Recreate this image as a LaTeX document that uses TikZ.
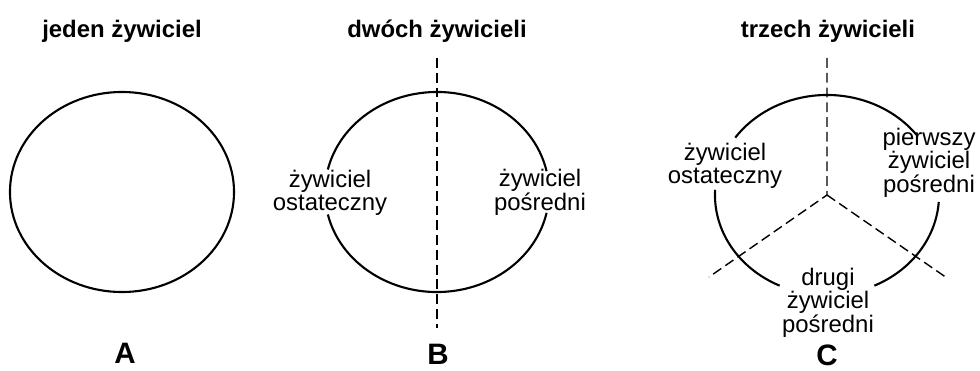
\documentclass[tikz,border=0pt]{standalone}
\usepackage{fontspec}
\setmainfont{Liberation Sans}
\usetikzlibrary{calc}

\begin{document}
\begin{tikzpicture}[x=0.025cm, y=0.025cm,
    obwod/.style={line width=1.5pt},
    os/.style={dashed, line width=1pt, dash pattern=on 7pt off 3.5pt},
    tytul/.style={font=\fontsize{17}{17}\selectfont\bfseries},
    litera/.style={inner sep=0pt, font=\fontsize{21}{21}\selectfont\bfseries},
    opis/.style={align=center, inner sep=0pt, font=\fontsize{17}{16}\selectfont},
    luk/.style={x radius=2.8cm, y radius=2.5cm}]
        \useasboundingbox (0,0) rectangle (980,370);

        % Centres of the three cycles
        \coordinate (A) at (122,178);
        \coordinate (B) at (437,178);
        \coordinate (C) at (827,175);

        % Titles and letters
        \node[tytul] (tytA) at (122,339) {jeden żywiciel};
        \node[tytul] (tytB) at (437,339) {dwóch żywicieli};
        \node[tytul] (tytC) at (828,339) {trzech żywicieli};
        \node[litera] (litA) at (125,17) {A};
        \node[litera] (litB) at (438,16) {B};
        \node[litera] (litC) at (827,15) {C};

        % A: one host
        \draw[obwod] (A) ellipse [luk];

        % B: two hosts
        \draw[obwod] (B) ++(12:2.8cm and 2.5cm) arc[luk, start angle=12, end angle=167];
        \draw[obwod] (B) ++(193:2.8cm and 2.5cm) arc[luk, start angle=193, end angle=348];
        \coordinate (Bg) at (437,312);
        \coordinate (Bd) at (437,42);
        \draw[os] (Bg) -- (Bd);
        \node[opis] (ostB) at (330,177) {żywiciel\\ostateczny};
        \node[opis] (posB) at (540,178) {żywiciel\\pośredni};

        % C: three hosts
        \draw[obwod] (C) ++(37:2.8cm and 2.5cm) arc[luk, start angle=37, end angle=145];
        \draw[obwod] (C) ++(177:2.8cm and 2.5cm) arc[luk, start angle=177, end angle=245];
        \draw[obwod] (C) ++(295:2.8cm and 2.5cm) arc[luk, start angle=295, end angle=356];
        \coordinate (Cg) at (827,312);
        \coordinate (Cl) at ($(C)+(-118,-82)$);
        \coordinate (Cp) at ($(C)+(120,-83)$);
        \draw[os] (Cg) -- (C) -- (Cl);
        \draw[os] (C) -- (Cp);
        \node[opis] (ostC) at (725,204) {żywiciel\\ostateczny};
        \node[opis] (pierwC) at (929,207) {pierwszy\\żywiciel\\pośredni};
        \node[opis] (drugiC) at (828,67) {drugi\\żywiciel\\pośredni};
\end{tikzpicture}
\end{document}
